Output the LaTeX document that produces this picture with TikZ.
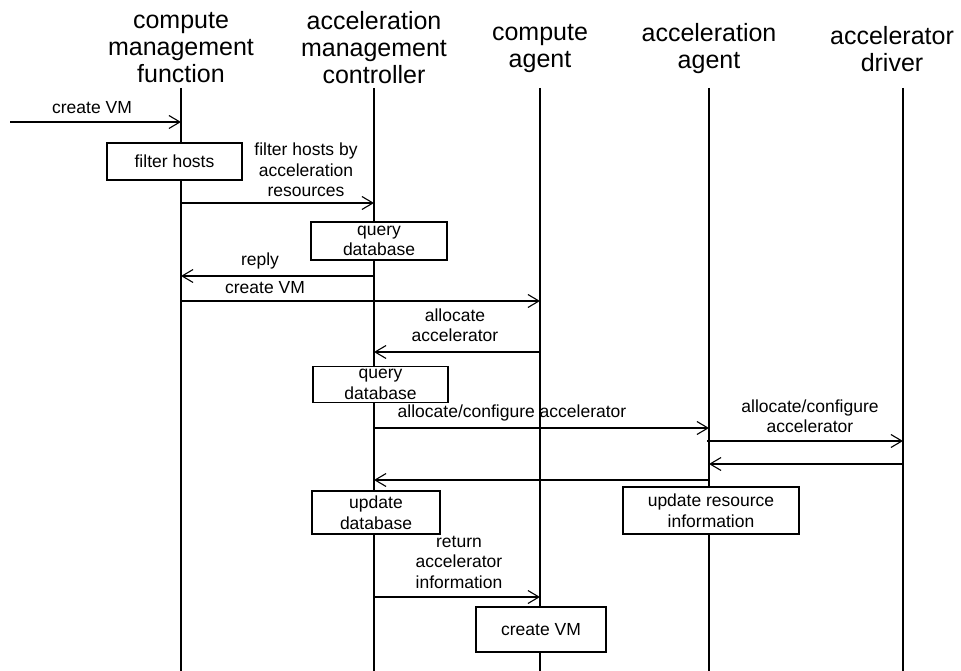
\documentclass[tikz,border=0pt]{standalone}
\usepackage{fontspec}
\setmainfont{Liberation Sans}
\usetikzlibrary{arrows.meta}
\begin{document}
\begin{tikzpicture}[x=1pt,y=-1pt,
  life/.style={line width=1.8pt},
  msg/.style={line width=1.1pt,-{Straight Barb[length=11pt,width=13pt]}},
  lbl/.style={font=\fontsize{17.5}{20.5}\selectfont,align=center,inner sep=0pt},
  actbox/.style={draw,fill=white,line width=1.1pt,align=center,inner sep=0pt,font=\fontsize{17.5}{20.5}\selectfont},
  hdr/.style={font=\fontsize{25}{27}\selectfont,align=center,inner sep=0pt}]
\useasboundingbox[fill=white] (0,0) rectangle (961,671);

% headers
\node[hdr] (h1) at (181,48) {compute\\management\\function};
\node[hdr] (h2) at (374,48) {acceleration\\management\\controller};
\node[hdr] (h3) at (540,49) {compute\\agent};
\node[hdr] (h4) at (709,49) {acceleration\\agent};
\node[hdr] (h5) at (892,49) {accelerator\\driver};

% lifelines
\coordinate (t1) at (181,88); \coordinate (b1) at (181,671);
\coordinate (t2) at (374,88); \coordinate (b2) at (374,671);
\coordinate (t3) at (540,88); \coordinate (b3) at (540,671);
\coordinate (t4) at (709,88); \coordinate (b4) at (709,671);
\coordinate (t5) at (903,88); \coordinate (b5) at (903,671);
\draw[life] (t1) -- (b1);
\draw[life] (t2) -- (b2);
\draw[life] (t3) -- (b3);
\draw[life] (t4) -- (b4);
\draw[life] (t5) -- (b5);

% activity boxes
\node[actbox,minimum width=135pt,minimum height=37pt] (filt) at (174.5,161.5) {filter hosts};
\node[actbox,minimum width=136pt,minimum height=38pt] (qdb1) at (379,241) {query\\database};
\node[actbox,minimum width=135pt,minimum height=36pt] (qdb2) at (380.5,384.5) {query\\database};
\node[actbox,minimum width=128pt,minimum height=43pt] (udb) at (376,512.5) {update\\database};
\node[actbox,minimum width=176pt,minimum height=47pt] (uri) at (711,510.5) {update resource\\information};
\node[actbox,minimum width=130pt,minimum height=45pt] (cvm) at (541,629.5) {create VM};

% message end points
\coordinate (m1a) at (10,122);   \coordinate (m1b) at (181,122);
\coordinate (m2a) at (181,203);  \coordinate (m2b) at (374,203);
\coordinate (m3a) at (374,276);  \coordinate (m3b) at (181,276);
\coordinate (m4a) at (181,301);  \coordinate (m4b) at (540,301);
\coordinate (m5a) at (540,352);  \coordinate (m5b) at (374,352);
\coordinate (m6a) at (374,428);  \coordinate (m6b) at (709,428);
\coordinate (m7a) at (707,441);  \coordinate (m7b) at (903,441);
\coordinate (m8a) at (903,464);  \coordinate (m8b) at (709,464);
\coordinate (m9a) at (709,480);  \coordinate (m9b) at (374,480);
\coordinate (m10a) at (374,597); \coordinate (m10b) at (540,597);

\draw[msg] (m1a) -- (m1b);
\draw[msg] (m2a) -- (m2b);
\draw[msg] (m3a) -- (m3b);
\draw[msg] (m4a) -- (m4b);
\draw[msg] (m5a) -- (m5b);
\draw[msg] (m6a) -- (m6b);
\draw[msg] (m7a) -- (m7b);
\draw[msg] (m8a) -- (m8b);
\draw[msg] (m9a) -- (m9b);
\draw[msg] (m10a) -- (m10b);

% message labels
\node[lbl] (l1) at (92,108) {create VM};
\node[lbl] (l2) at (306,170) {filter hosts by\\acceleration\\resources};
\node[lbl] (l3) at (260,261) {reply};
\node[lbl] (l4) at (265,288) {create VM};
\node[lbl] (l5) at (455,325) {allocate\\accelerator};
\node[lbl] (l6) at (512,413) {allocate/configure accelerator};
\node[lbl] (l7) at (810,416) {allocate/configure\\accelerator};
\node[lbl] (l10) at (459,562) {return\\accelerator\\information};
\end{tikzpicture}
\end{document}
